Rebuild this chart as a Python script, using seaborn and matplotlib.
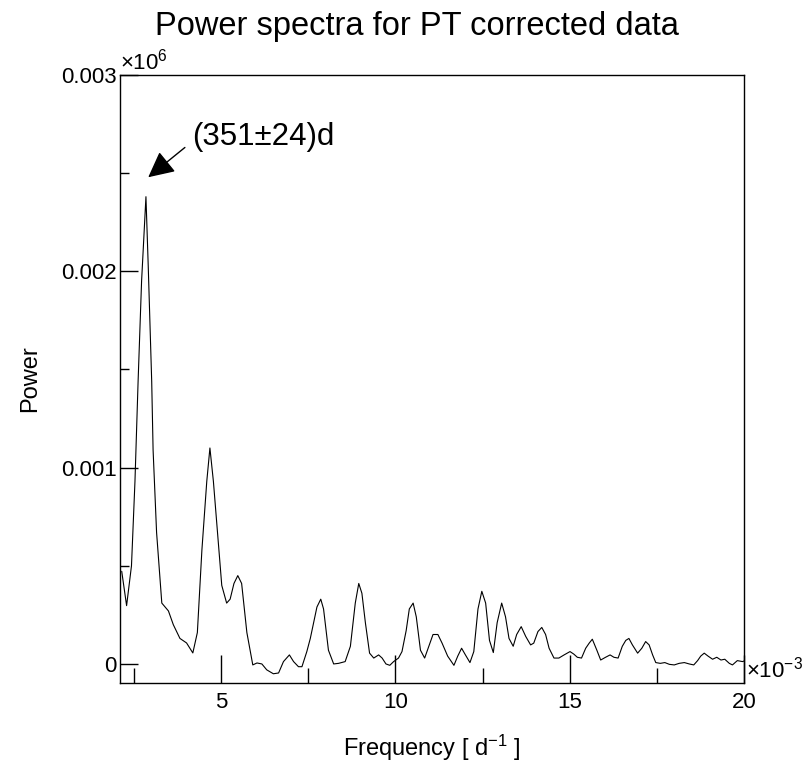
import matplotlib
matplotlib.use("Agg")
import matplotlib.pyplot as plt
import matplotlib.ticker as mticker
import seaborn as sns
import pandas as pd

# Frequency in units of 1e-3 d^-1
freq = [2.15, 2.29, 2.43, 2.53, 2.62, 2.72, 2.845, 2.91, 3.01, 3.05, 3.15, 3.30, 3.49, 3.63,
        3.82, 4.01, 4.19, 4.32, 4.45, 4.59, 4.68, 4.78, 4.92, 5.02, 5.16, 5.26, 5.37, 5.48,
        5.59, 5.74, 5.91, 6.03, 6.17, 6.31, 6.50, 6.65, 6.79, 6.96, 7.08, 7.22, 7.32, 7.46,
        7.56, 7.75, 7.86, 7.94, 8.08, 8.23, 8.37, 8.56, 8.71, 8.85, 8.95, 9.04, 9.14, 9.26,
        9.38, 9.52, 9.62, 9.73, 9.84, 9.95, 10.09, 10.19, 10.31, 10.40, 10.51, 10.60, 10.72,
        10.84, 10.96, 11.08, 11.22, 11.34, 11.50, 11.68, 11.79, 11.90, 12.01, 12.14, 12.25,
        12.37, 12.48, 12.59, 12.70, 12.81, 12.92, 13.05, 13.16, 13.26, 13.38, 13.48, 13.61,
        13.74, 13.88, 13.97, 14.09, 14.20, 14.31, 14.41, 14.55, 14.69, 14.84, 15.01, 15.12,
        15.22, 15.34, 15.46, 15.56, 15.65, 15.78, 15.89, 16.03, 16.16, 16.27, 16.39, 16.51,
        16.61, 16.70, 16.80, 16.95, 17.07, 17.18, 17.28, 17.38, 17.47, 17.60, 17.73, 17.86,
        18.00, 18.14, 18.29, 18.43, 18.56, 18.67, 18.76, 18.86, 18.97, 19.10, 19.22, 19.34,
        19.45, 19.58, 19.67, 19.81, 19.96, 20.0]

# Power in thousandths of the axis unit (axis labelled 0.001 .. 0.003 x10^6)
power = [0.472, 0.297, 0.50, 0.93, 1.44, 1.95, 2.38, 2.03, 1.44, 1.09, 0.67, 0.31, 0.27, 0.20,
         0.13, 0.107, 0.056, 0.16, 0.58, 0.93, 1.10, 0.93, 0.62, 0.40, 0.31, 0.33, 0.41, 0.45,
         0.41, 0.16, -0.005, 0.005, 0.0, -0.03, -0.05, -0.046, 0.012, 0.046, 0.012, -0.014, -0.014, 0.063,
         0.13, 0.29, 0.33, 0.28, 0.07, 0.0, 0.003, 0.012, 0.09, 0.31, 0.41, 0.36, 0.21, 0.055,
         0.03, 0.046, 0.03, 0.0, -0.007, 0.012, 0.03, 0.063, 0.17, 0.28, 0.31, 0.24, 0.07,
         0.03, 0.09, 0.15, 0.15, 0.106, 0.04, -0.007, 0.04, 0.08, 0.046, 0.007, 0.063,
         0.28, 0.37, 0.31, 0.12, 0.058, 0.21, 0.31, 0.24, 0.13, 0.09, 0.15, 0.19,
         0.14, 0.097, 0.106, 0.165, 0.186, 0.15, 0.08, 0.03, 0.03, 0.046, 0.063, 0.05,
         0.034, 0.03, 0.08, 0.106, 0.126, 0.07, 0.02, 0.034, 0.046, 0.034, 0.03, 0.09,
         0.12, 0.13, 0.097, 0.055, 0.08, 0.114, 0.097, 0.046, 0.007, 0.003, 0.007, -0.002,
         -0.005, 0.003, 0.007, 0.0, -0.005, 0.017, 0.04, 0.055, 0.04, 0.024, 0.034, 0.02,
         0.024, 0.003, -0.005, 0.017, 0.012, 0.015]

x_major = [5, 10, 15, 20]
x_minor = [2.5, 7.5, 12.5, 17.5]
y_major = [0, 1, 2, 3]
y_minor = [0.5, 1.5, 2.5]

title = "Power spectra for PT corrected data"
xlabel = "Frequency [ d$^{-1}$ ]"
ylabel = "Power"
annotation = "(351±24)d"
peak_xy = (2.91, 2.479)
label_xy = (4.18, 2.685)

sns.set_theme(style="white")
plt.rcParams["font.family"] = ["Liberation Sans", "DejaVu Sans"]
plt.rcParams["mathtext.fontset"] = "custom"
plt.rcParams["mathtext.rm"] = "Liberation Sans"
plt.rcParams["mathtext.it"] = "Liberation Sans:italic"
plt.rcParams["mathtext.bf"] = "Liberation Sans:bold"
plt.rcParams["text.color"] = "black"
plt.rcParams["axes.labelcolor"] = "black"
plt.rcParams["xtick.color"] = "black"
plt.rcParams["ytick.color"] = "black"
plt.rcParams["axes.edgecolor"] = "black"

df = pd.DataFrame({"freq": freq, "power": power})

fig = plt.figure(figsize=(8.09, 7.65), dpi=100)
ax = fig.add_axes([0.1483, 0.1072, 0.7713, 0.7948])

sns.lineplot(data=df, x="freq", y="power", ax=ax, color="black", linewidth=0.8,
             sort=False, estimator=None)

ax.set_xlim(2.1, 20)
ax.set_ylim(-0.097, 3.0)

ax.set_xticks(x_major)
ax.set_xticks(x_minor, minor=True)
ax.set_yticks(y_major)
ax.set_yticks(y_minor, minor=True)
ax.xaxis.set_major_formatter(mticker.FuncFormatter(lambda v, p: f"{v:g}"))
ax.yaxis.set_major_formatter(mticker.FuncFormatter(
    lambda v, p: "0" if abs(v) < 1e-9 else f"{v/1000:.3f}"))

ax.tick_params(axis="x", which="major", direction="in", length=20, width=1,
               color="black", labelcolor="black", labelsize=16, pad=6.5,
               top=False, bottom=True)
ax.tick_params(axis="x", which="minor", direction="in", length=10.8, width=1,
               color="black", top=False, bottom=True)
ax.tick_params(axis="y", which="major", direction="in", length=13, width=1,
               color="black", labelcolor="black", labelsize=16, pad=2.5,
               left=True, right=False)
ax.tick_params(axis="y", which="minor", direction="in", length=6.5, width=1,
               color="black", left=True, right=False)

for s in ax.spines.values():
    s.set_color("black")
    s.set_linewidth(1)
    s.set_visible(True)

ax.set_xlabel(xlabel, fontsize=17, labelpad=14, color="black")
ax.set_ylabel(ylabel, fontsize=17, labelpad=14, color="black")
ax.grid(False)

# offset multipliers
ax.text(0.0, 1.0, r"×10$^{6}$", transform=ax.transAxes, fontsize=16,
        ha="left", va="bottom", color="black")
ax.text(1.003, 0.0, r"×10$^{-3}$", transform=ax.transAxes, fontsize=16,
        ha="left", va="bottom", color="black")

fig.text(0.515, 0.965, title, fontsize=23.5, ha="center", va="center",
         color="black")

ax.annotate(annotation, xy=peak_xy, xytext=label_xy, fontsize=22.5,
            ha="left", va="center", color="black",
            arrowprops=dict(arrowstyle="-|>,head_length=0.4,head_width=0.2",
                            color="black", lw=1, mutation_scale=40,
                            relpos=(0, 0.35), shrinkA=4, shrinkB=0))

fig.savefig("out.png", dpi=100)
